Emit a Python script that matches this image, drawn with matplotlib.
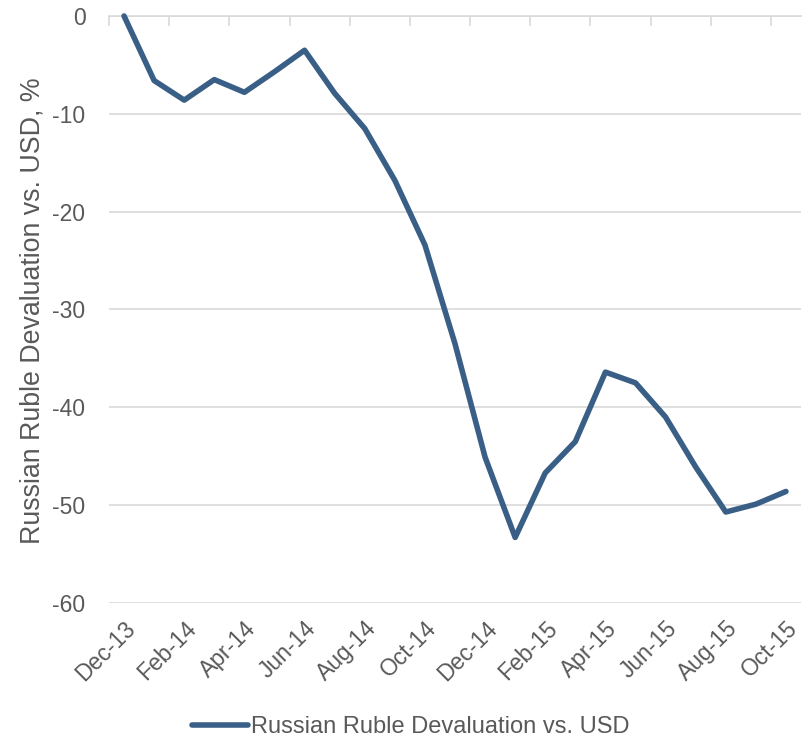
import numpy as np
import matplotlib
matplotlib.use('Agg')
import matplotlib.pyplot as plt
from matplotlib.lines import Line2D

# === Data ===
months = ['Dec-13', 'Jan-14', 'Feb-14', 'Mar-14', 'Apr-14', 'May-14', 'Jun-14',
          'Jul-14', 'Aug-14', 'Sep-14', 'Oct-14', 'Nov-14', 'Dec-14', 'Jan-15',
          'Feb-15', 'Mar-15', 'Apr-15', 'May-15', 'Jun-15', 'Jul-15', 'Aug-15',
          'Sep-15', 'Oct-15']
devaluation = [0.0, -6.6, -8.6, -6.5, -7.8, -5.7, -3.5,
               -7.9, -11.5, -16.8, -23.4, -33.5, -45.1, -53.3,
               -46.7, -43.5, -36.4, -37.5, -41.0, -46.1, -50.7,
               -49.9, -48.6]
series_name = 'Russian Ruble Devaluation vs. USD'
y_ticks = [0, -10, -20, -30, -40, -50, -60]

LINE_COLOR = '#3A5F86'
TEXT_COLOR = '#595959'
GRID_COLOR = '#D9D9D9'

plt.rcParams['font.family'] = ['Liberation Sans', 'DejaVu Sans']

W, H = 808, 743
fig = plt.figure(figsize=(W / 100, H / 100), dpi=100)
ax = fig.add_axes([109 / W, 1 - 603 / H, (801 - 109) / W, (603 - 16) / H])

x = np.arange(len(months))
ax.plot(x, devaluation, color=LINE_COLOR, linewidth=4, solid_joinstyle='round',
        solid_capstyle='round', clip_on=False, zorder=3)

ax.set_xlim(-0.5, len(months) - 0.5)
ax.set_ylim(-60, 0)

# y axis
ax.set_yticks(y_ticks)
ax.set_yticklabels([str(v) for v in y_ticks])
ax.grid(axis='y', color=GRID_COLOR, linewidth=1.2)
ax.set_axisbelow(True)
ax.tick_params(axis='y', length=0, pad=17, labelsize=16.5, labelcolor=TEXT_COLOR)
ax.set_ylabel('Russian Ruble Devaluation vs. USD, %', fontsize=19.3,
              color=TEXT_COLOR)
ax.yaxis.set_label_coords(33 / W, 1 - 311 / H, transform=fig.transFigure)
ax.yaxis.label.set_va('center')

# x axis: labels at bottom, category tick marks hanging from the 0 line
ax.set_xticks(x[::2])
ax.set_xticklabels(months[::2], rotation=45, ha='right', rotation_mode='anchor')
ax.tick_params(axis='x', which='major', length=0, pad=10, labelsize=16.5,
               labelcolor=TEXT_COLOR)
ax.set_xticks(np.arange(-0.5, len(months) - 0.5, 2), minor=True)
ax.tick_params(axis='x', which='minor', bottom=False, top=True, direction='in',
               length=7, width=1.2, color=GRID_COLOR)

for side in ['left', 'right', 'bottom']:
    ax.spines[side].set_visible(False)
ax.spines['top'].set_color(GRID_COLOR)
ax.spines['top'].set_linewidth(1.2)

handle = Line2D([], [], color=LINE_COLOR, linewidth=4, solid_capstyle='round')
fig.legend([handle], [series_name], loc='center', bbox_to_anchor=(0.508, 1 - 727 / H),
           frameon=False, fontsize=17, labelcolor=TEXT_COLOR, handlelength=2.4,
           handletextpad=0.1)

fig.savefig('out.png', dpi=100)
